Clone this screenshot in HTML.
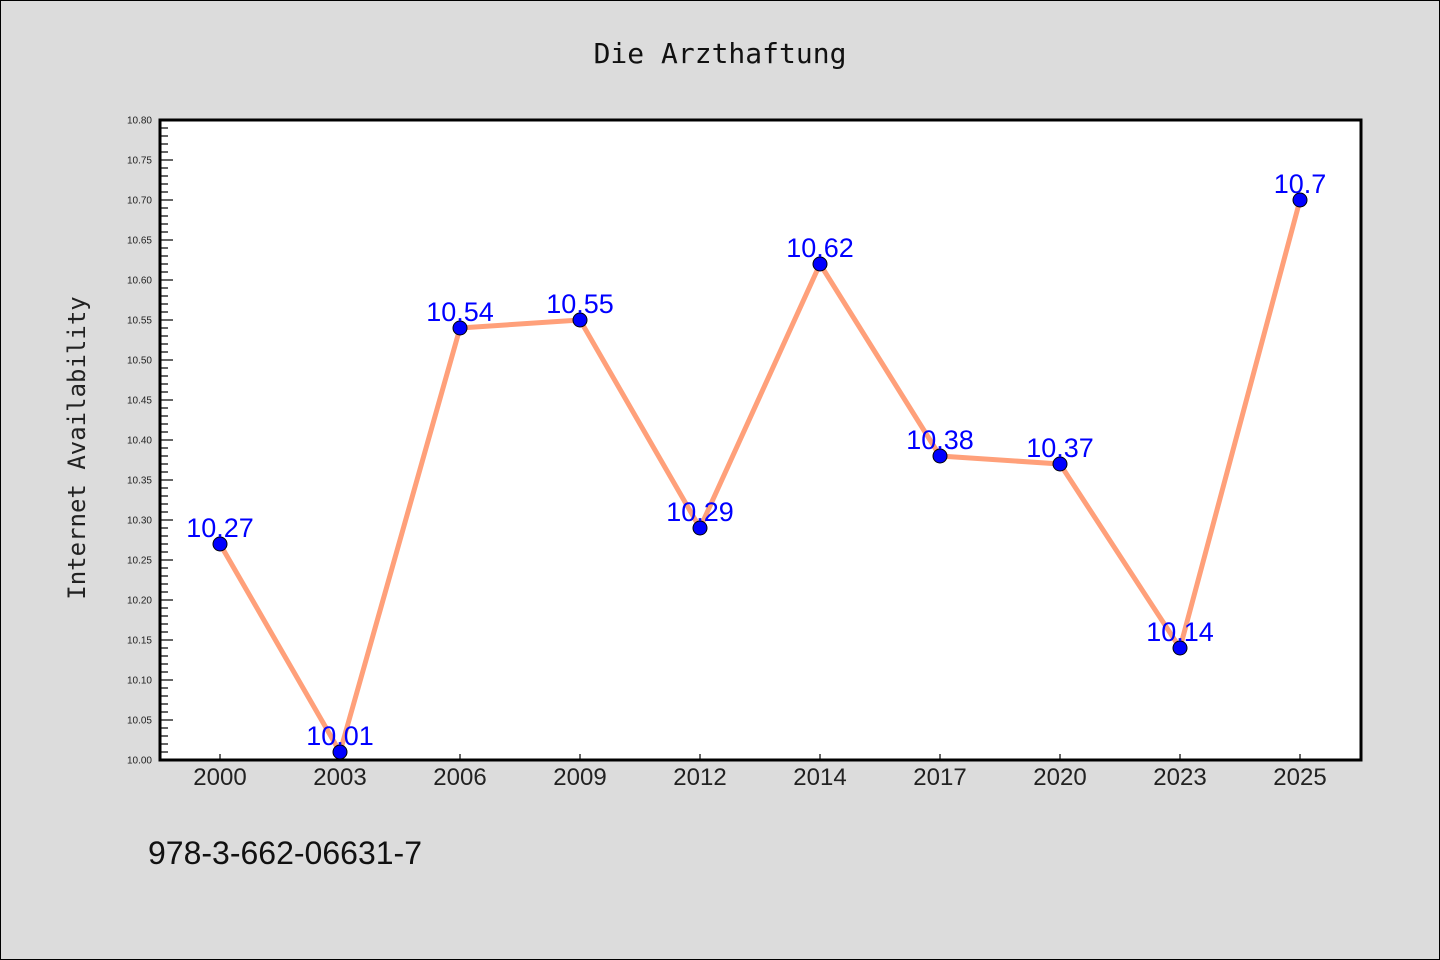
<!DOCTYPE html>
<html><head><meta charset="utf-8"><style>
body{margin:0;background:#dcdcdc;}
svg{display:block;font-family:"Liberation Sans","DejaVu Sans",sans-serif;}
</style></head><body>
<svg id="chart" width="1440" height="960">
<rect x="0.5" y="0.5" width="1439" height="959" fill="#dcdcdc" stroke="#000"/>
<text x="720" y="63" text-anchor="middle" font-size="28" font-family="DejaVu Sans Mono, monospace" fill="#111">Die Arzthaftung</text>
<rect x="160" y="120" width="1201" height="640" fill="#fff"/>
<g id="ticks"></g>
<g id="series"></g>
<rect x="160" y="120" width="1201" height="640" fill="none" stroke="#000" stroke-width="3"/>
<text transform="translate(85,448) rotate(-90)" text-anchor="middle" font-size="24" font-family="DejaVu Sans Mono, monospace" fill="#222">Internet Availability</text>
<text x="148" y="864" font-size="32" fill="#111">978-3-662-06631-7</text>
</svg>
<script>
const categories=["2000","2003","2006","2009","2012","2014","2017","2020","2023","2025"];
const values=[10.27,10.01,10.54,10.55,10.29,10.62,10.38,10.37,10.14,10.7];
const yTicks=["10.00","10.05","10.10","10.15","10.20","10.25","10.30","10.35","10.40","10.45","10.50","10.55","10.60","10.65","10.70","10.75","10.80"];
const yMin=10.0,yMax=10.8;
const NS="http://www.w3.org/2000/svg";
const X=i=>220+i*120;
const Y=v=>760-(v-yMin)/(yMax-yMin)*640;
function mk(t,a,p){const e=document.createElementNS(NS,t);for(const k in a)e.setAttribute(k,a[k]);p.appendChild(e);return e;}
const tg=document.getElementById('ticks'),sg=document.getElementById('series');
for(let k=0;k<=80;k++){const v=yMin+k*0.01,y=Y(v);const major=k%5===0;
 const l=mk('line',{x1:160,x2:160+(major?13:8),y1:y,y2:y,stroke:'#000','stroke-width':1.2},tg);
 
 }
yTicks.forEach(s=>{const t=mk('text',{x:152,y:Y(parseFloat(s))+3.5,'text-anchor':'end','font-size':10,fill:'#222'},tg);t.textContent=s;
 
 });
categories.forEach((c,i)=>{const l=mk('line',{x1:X(i),x2:X(i),y1:760,y2:754,stroke:'#000','stroke-width':1.2},tg);
 
 
 const t=mk('text',{x:X(i),y:785,'text-anchor':'middle','font-size':24,fill:'#222'},tg);t.textContent=c;
 
 });
const pl=mk('polyline',{points:values.map((v,i)=>X(i)+','+Y(v)).join(' '),fill:'none',stroke:'#ffa07a','stroke-width':5,'stroke-linejoin':'round'},sg);


values.forEach((v,i)=>{const c=mk('circle',{cx:X(i),cy:Y(v),r:7,fill:'#0000ff',stroke:'#000','stroke-width':1},sg);
 
 
 const t=mk('text',{x:X(i),y:Y(v)-7,'text-anchor':'middle','font-size':27,fill:'#0000ff'},sg);t.textContent=String(v);
 
 });
</script>
</body></html>
